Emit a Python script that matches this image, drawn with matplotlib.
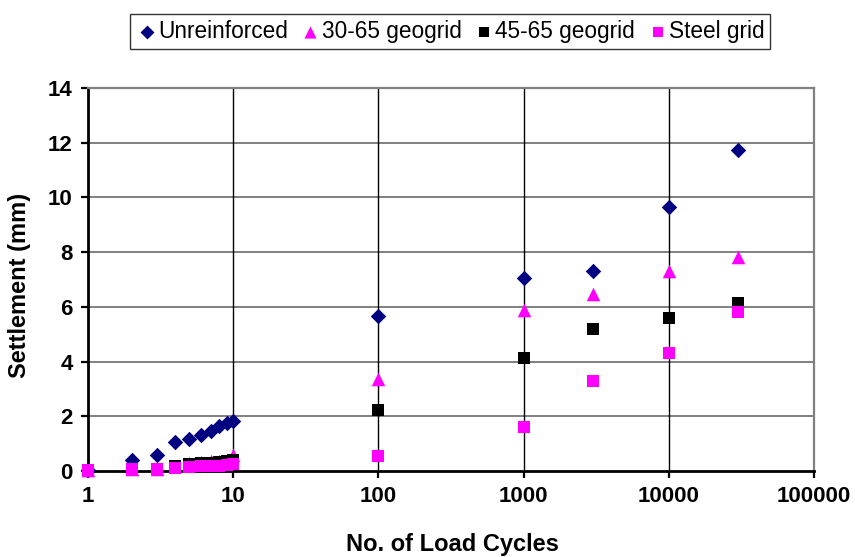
import matplotlib
matplotlib.use("Agg")
import matplotlib.pyplot as plt
from matplotlib.ticker import FixedLocator, FixedFormatter, NullLocator

plt.rcParams['font.family'] = ['Liberation Sans', 'DejaVu Sans']

cycles = [1, 2, 3, 4, 5, 6, 7, 8, 9, 10, 100, 1000, 3000, 10000, 30000]
unreinforced = [0.05, 0.4, 0.58, 1.05, 1.17, 1.3, 1.46, 1.65, 1.74, 1.82, 5.65, 7.04, 7.31, 9.65, 11.73]
geogrid_30_65 = [0.05, 0.06, 0.07, 0.2, 0.3, 0.32, 0.35, 0.38, 0.42, 0.58, 3.35, 5.88, 6.46, 7.31, 7.83]
geogrid_45_65 = [0.05, 0.06, 0.07, 0.18, 0.25, 0.28, 0.3, 0.33, 0.38, 0.42, 2.23, 4.14, 5.19, 5.58, 6.15]
steel_grid = [0.05, 0.07, 0.08, 0.1, 0.15, 0.18, 0.2, 0.2, 0.22, 0.25, 0.55, 1.62, 3.29, 4.33, 5.82]

series_names = ["Unreinforced", "30-65 geogrid", "45-65 geogrid", "Steel grid"]
x_ticks = [1, 10, 100, 1000, 10000, 100000]
x_tick_labels = ["1", "10", "100", "1000", "10000", "100000"]
y_ticks = [0, 2, 4, 6, 8, 10, 12, 14]

FS = 16

fig = plt.figure(figsize=(8.55, 5.57), dpi=100)
ax = fig.add_axes([88/855, 1 - 471/557, (814-88)/855, (471-88)/557])

kw = dict(zorder=3, linewidths=0, clip_on=False)
ax.scatter(cycles, unreinforced, marker='D', s=62, color='#000080', label=series_names[0], **kw)
ax.scatter(cycles, geogrid_30_65, marker='^', s=95, color='#FF00FF', label=series_names[1], **kw)
ax.scatter(cycles, geogrid_45_65, marker='s', s=66, color='#000000', label=series_names[2], **kw)
ax.scatter(cycles, steel_grid, marker='s', s=66, color='#FF00FF', label=series_names[3], **kw)

ax.set_xscale('log')
ax.set_xlim(1, 100000)
ax.set_ylim(0, 14)
ax.xaxis.set_major_locator(FixedLocator(x_ticks))
ax.xaxis.set_major_formatter(FixedFormatter(x_tick_labels))
ax.xaxis.set_minor_locator(NullLocator())
ax.set_yticks(y_ticks)

for yv in y_ticks[1:]:
    ax.axhline(yv, color='#808080', lw=1.4, zorder=1)
for xv in x_ticks[1:-1]:
    ax.axvline(xv, color='black', lw=1.0, zorder=1)

ax.spines['left'].set_color('black')
ax.spines['left'].set_linewidth(2.0)
ax.spines['bottom'].set_color('black')
ax.spines['bottom'].set_linewidth(2.0)
ax.spines['top'].set_color('#808080')
ax.spines['top'].set_linewidth(1.6)
ax.spines['right'].set_color('#808080')
ax.spines['right'].set_linewidth(1.6)
for sp in ax.spines.values():
    sp.set_zorder(2)

ax.tick_params(axis='both', direction='out', width=1.6, length=5, labelsize=FS, pad=6)
for lab in ax.get_xticklabels() + ax.get_yticklabels():
    lab.set_fontweight('bold')

fig.text(452/855, 1 - 545/557, "No. of Load Cycles", fontsize=17, fontweight='bold',
         ha='center', va='center')
fig.text(20/855, 1 - 285/557, "Settlement (mm)", fontsize=17, fontweight='bold',
         ha='center', va='center', rotation=90)

leg = fig.legend(loc='upper center', bbox_to_anchor=(450/855, 1 - 3/557), ncol=4,
                 fontsize=16.3, frameon=True, fancybox=False, edgecolor='black',
                 handletextpad=0.0, columnspacing=0.5, borderpad=0.25, handlelength=1.0,
                 markerscale=0.9)
leg.get_frame().set_linewidth(1.0)

fig.savefig("out.png", dpi=100)
